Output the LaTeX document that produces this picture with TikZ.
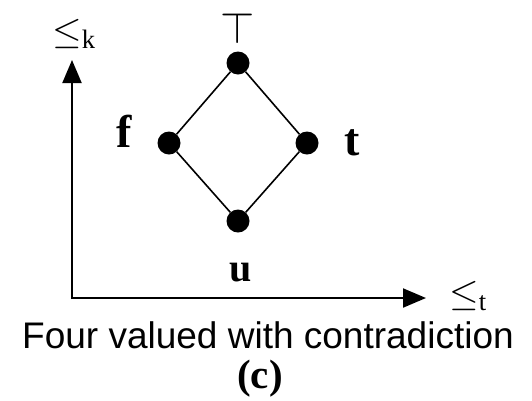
\documentclass[tikz,border=0pt]{standalone}
\usepackage{fix-cm}
\usepackage{fontspec}
\setmainfont{Liberation Serif}
\setsansfont{Liberation Sans}
\usetikzlibrary{arrows.meta, positioning}

\begin{document}
\begin{tikzpicture}[
        x=1pt, y=-1pt,
        dot/.style={circle, fill=black, inner sep=0pt, minimum size=23pt},
        val/.style={inner sep=0pt, font=\fontsize{46}{46}\selectfont\bfseries},
        order/.style={inner sep=0pt, font=\fontsize{38}{38}\selectfont},
        axis/.style={-{Triangle[length=23pt, width=19pt]}, line width=2pt},
        edge/.style={line width=1.6pt}
    ]
    \useasboundingbox (0,0) rectangle (532,400);

    % axes
    \coordinate (origin) at (72,298);
    \coordinate (ktip) at (72,60);
    \coordinate (ttip) at (426,298);
    \draw[axis] ([yshift=-1pt]origin) -- (ktip);
    \draw[axis] ([xshift=-1pt]origin) -- (ttip);
    \node[order] (lek) at (74,34) {$\leq_{\mathrm{k}}$};
    \node[order] (let) at (468,296) {$\leq_{\mathrm{t}}$};

    % lattice
    \node[dot] (topv) at (238,63) {};
    \node[dot] (fv) at (169,143) {};
    \node[dot] (tv) at (307,143) {};
    \node[dot] (uv) at (238,221) {};
    \draw[edge] (topv) -- (fv) -- (uv) -- (tv) -- (topv);

    \node[inner sep=0pt, font=\fontsize{44}{44}\selectfont, above=8pt of topv] (toplbl) {$\top$};
    \node[val, left=25pt of fv, yshift=12pt] (flbl) {f};
    \node[val, right=26pt of tv] (tlbl) {t};
    \node[val, font=\fontsize{40}{40}\selectfont\bfseries, below=30pt of uv, xshift=3pt] (ulbl) {u};

    % caption
    \node[anchor=base, font=\sffamily\fontsize{37}{37}\selectfont] (caption) at (268,348) {Four valued with contradiction};
    \node[anchor=base, font=\fontsize{41}{41}\selectfont\bfseries] (tag) at (260,388) {(c)};
\end{tikzpicture}
\end{document}
